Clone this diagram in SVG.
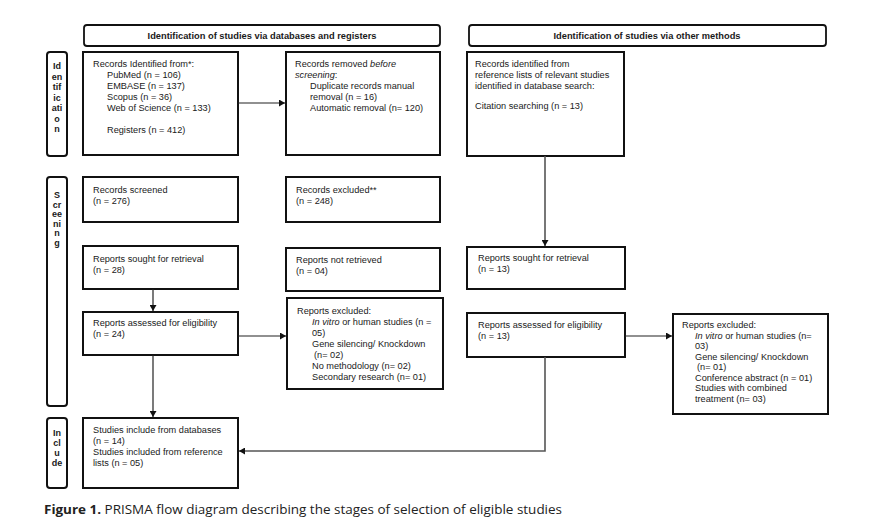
<svg xmlns="http://www.w3.org/2000/svg" width="875" height="530" viewBox="0 0 875 530">
<defs>
<style>
.bg{fill:#ffffff}
.box{fill:#ffffff;stroke:#111111;stroke-width:2}
.hdr{fill:#ffffff;stroke:#111111;stroke-width:1.8}
.side{fill:#ffffff;stroke:#111111;stroke-width:2}
.t{font-family:"Liberation Sans",Arial,sans-serif;font-size:9.2px;fill:#1a1a1a}
.st{font-family:"Liberation Sans",Arial,sans-serif;font-size:9px;font-weight:bold;fill:#1a1a1a;text-anchor:middle}
.ht{font-family:"Liberation Sans",Arial,sans-serif;font-size:9.3px;font-weight:bold;fill:#1a1a1a;text-anchor:middle}
.i{font-style:italic}
.con{fill:none;stroke:#222222;stroke-width:1.2}
.cong{fill:none;stroke:#555555;stroke-width:1.6}
.cap{font-family:"Open Sans","Liberation Sans",sans-serif;font-size:13px;fill:#222222}
</style>
<marker id="ah" markerUnits="userSpaceOnUse" markerWidth="7" markerHeight="7" refX="6" refY="3.5" orient="auto">
<path d="M0,0 L6,3.5 L0,7 Z" fill="#111111"/>
</marker>
</defs>
<rect class="bg" x="0" y="0" width="875" height="530"/>

<g id="header-databases">
<rect class="hdr" x="84" y="25" width="356" height="21" rx="3"/>
<text class="ht" x="262" y="39">Identification of studies via databases and registers</text>
</g>
<g id="header-other">
<rect class="hdr" x="469" y="25" width="357" height="21" rx="3"/>
<text class="ht" x="647" y="39">Identification of studies via other methods</text>
</g>

<g id="side-identification">
<rect class="side" x="47" y="52" width="20" height="104" rx="3"/>
<text class="st"><tspan x="57" y="69">Id</tspan><tspan x="57" y="79.5">en</tspan><tspan x="57" y="90">tif</tspan><tspan x="57" y="100.5">ic</tspan><tspan x="57" y="111">ati</tspan><tspan x="57" y="121.5">o</tspan><tspan x="57" y="132">n</tspan></text>
</g>
<g id="side-screening">
<rect class="side" x="47" y="177" width="20" height="229" rx="3"/>
<text class="st"><tspan x="57" y="198">S</tspan><tspan x="57" y="207.5">cr</tspan><tspan x="57" y="217">ee</tspan><tspan x="57" y="226.5">ni</tspan><tspan x="57" y="236">n</tspan><tspan x="57" y="245.5">g</tspan></text>
</g>
<g id="side-include">
<rect class="side" x="47" y="418" width="20" height="70" rx="3"/>
<text class="st"><tspan x="57" y="436">In</tspan><tspan x="57" y="446">cl</tspan><tspan x="57" y="456">u</tspan><tspan x="57" y="466">de</tspan></text>
</g>

<g id="records-identified">
<rect class="box" x="83" y="52" width="155" height="103"/>
<text class="t"><tspan x="93" y="66.5">Records Identified from*:</tspan><tspan x="107" y="77.5">PubMed (n = 106)</tspan><tspan x="107" y="88.5">EMBASE (n = 137)</tspan><tspan x="107" y="99.5">Scopus (n = 36)</tspan><tspan x="107" y="110.5">Web of Science (n = 133)</tspan><tspan x="107" y="132.5">Registers (n = 412)</tspan></text>
</g>
<g id="records-removed">
<rect class="box" x="286" y="52" width="154" height="103"/>
<text class="t"><tspan x="295" y="66.5">Records removed <tspan class="i">before</tspan></tspan><tspan x="295" y="77.5"><tspan class="i">screening</tspan>:</tspan><tspan x="310" y="88.5">Duplicate records manual</tspan><tspan x="310" y="99.5">removal (n = 16)</tspan><tspan x="310" y="110.5">Automatic removal (n= 120)</tspan></text>
</g>
<g id="records-citation">
<rect class="box" x="467" y="52" width="157" height="104"/>
<text class="t"><tspan x="475" y="66.5">Records identified from</tspan><tspan x="475" y="77.5">reference lists of relevant studies</tspan><tspan x="475" y="88.5">identified in database search:</tspan><tspan x="475" y="108.5">Citation searching (n = 13)</tspan></text>
</g>

<g id="records-screened">
<rect class="box" x="83" y="177" width="155" height="45"/>
<text class="t"><tspan x="93" y="193">Records screened</tspan><tspan x="93" y="204">(n = 276)</tspan></text>
</g>
<g id="records-excluded">
<rect class="box" x="286" y="177" width="154" height="45"/>
<text class="t"><tspan x="296" y="193">Records excluded**</tspan><tspan x="296" y="204">(n = 248)</tspan></text>
</g>

<g id="reports-sought-db">
<rect class="box" x="83" y="246" width="155" height="43"/>
<text class="t"><tspan x="93" y="262">Reports sought for retrieval</tspan><tspan x="93" y="273">(n = 28)</tspan></text>
</g>
<g id="reports-not-retrieved">
<rect class="box" x="286" y="248" width="154" height="43"/>
<text class="t"><tspan x="296" y="263">Reports not retrieved</tspan><tspan x="296" y="274">(n = 04)</tspan></text>
</g>
<g id="reports-sought-other">
<rect class="box" x="467" y="247" width="158" height="42"/>
<text class="t"><tspan x="478" y="261">Reports sought for retrieval</tspan><tspan x="478" y="272">(n = 13)</tspan></text>
</g>

<g id="reports-assessed-db">
<rect class="box" x="83" y="312" width="155" height="43"/>
<text class="t"><tspan x="93" y="326">Reports assessed for eligibility</tspan><tspan x="93" y="337">(n = 24)</tspan></text>
</g>
<g id="reports-excluded-db">
<rect class="box" x="287" y="298" width="156" height="91"/>
<text class="t"><tspan x="297" y="314">Reports excluded:</tspan><tspan x="312" y="325"><tspan class="i">In vitro</tspan> or human studies (n =</tspan><tspan x="312" y="336">05)</tspan><tspan x="312" y="347">Gene silencing/ Knockdown</tspan><tspan x="314" y="358">(n= 02)</tspan><tspan x="312" y="369">No methodology (n= 02)</tspan><tspan x="312" y="380">Secondary research (n= 01)</tspan></text>
</g>
<g id="reports-assessed-other">
<rect class="box" x="467" y="313" width="158" height="44"/>
<text class="t"><tspan x="478" y="328">Reports assessed for eligibility</tspan><tspan x="478" y="339">(n = 13)</tspan></text>
</g>
<g id="reports-excluded-other">
<rect class="box" x="673" y="314" width="155" height="100"/>
<text class="t"><tspan x="682" y="328">Reports excluded:</tspan><tspan x="695" y="338.5"><tspan class="i">In vitro</tspan> or human studies (n=</tspan><tspan x="695" y="349">03)</tspan><tspan x="695" y="359.5">Gene silencing/ Knockdown</tspan><tspan x="697" y="370">(n= 01)</tspan><tspan x="695" y="380.5">Conference abstract (n = 01)</tspan><tspan x="695" y="391">Studies with combined</tspan><tspan x="695" y="401.5">treatment (n= 03)</tspan></text>
</g>

<g id="studies-included">
<rect class="box" x="83" y="418" width="155" height="70"/>
<text class="t"><tspan x="93" y="433">Studies include from databases</tspan><tspan x="93" y="444">(n = 14)</tspan><tspan x="93" y="455">Studies included from reference</tspan><tspan x="93" y="466">lists (n = 05)</tspan></text>
</g>

<g id="connectors">
<path class="con" d="M238,103 H285" marker-end="url(#ah)"/>
<path class="cong" d="M545,156 V246" marker-end="url(#ah)"/>
<path class="con" d="M153,289 V311" marker-end="url(#ah)"/>
<path class="con" d="M238,336 H286" marker-end="url(#ah)"/>
<path class="con" d="M625,336 H672" marker-end="url(#ah)"/>
<path class="con" d="M153,355 V417" marker-end="url(#ah)"/>
<path class="cong" d="M545,357 V451 H239" marker-end="url(#ah)"/>
</g>

<text class="cap" x="44" y="514" textLength="518" lengthAdjust="spacingAndGlyphs"><tspan font-weight="bold">Figure 1.</tspan> PRISMA flow diagram describing the stages of selection of eligible studies</text>
</svg>
